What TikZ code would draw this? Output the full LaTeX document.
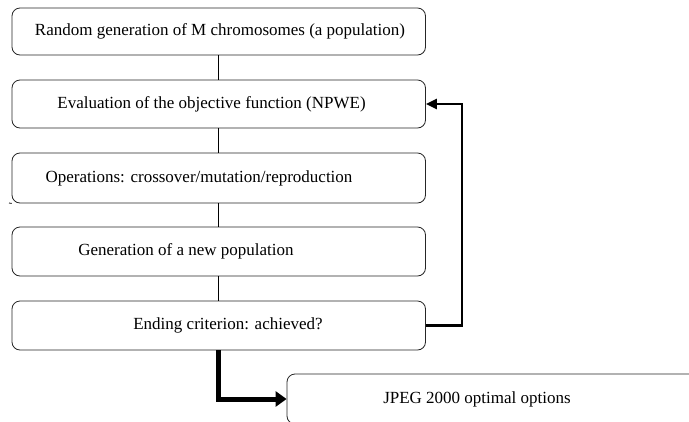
\documentclass[tikz,border=0pt]{standalone}
\usepackage{fontspec}
\setmainfont{Liberation Serif}
\usetikzlibrary{arrows.meta}
\begin{document}
\begin{tikzpicture}[x=1pt,y=-1pt,
  box/.style={draw=black!85,line width=0.8pt,rounded corners=8pt,minimum width=413.5pt,inner sep=0pt},
  lbl/.style={font=\fontsize{17}{20}\selectfont,inner sep=0pt,anchor=center},
  link/.style={draw=black,line width=0.8pt},
  backarrow/.style={draw=black,line width=2.2pt,-{Triangle[length=11pt,width=10pt]}},
  exitarrow/.style={draw=black,line width=5pt,-{Triangle[length=11pt,width=15pt]}}]
\useasboundingbox (0,0) rectangle (689,421);
\clip (0,0) rectangle (689,421);
\fill[white] (0,0) rectangle (689,421);
\node[box,minimum height=47pt] (b1) at (218.75,31.5) {};
\node[box,minimum height=48pt] (b2) at (218.75,104) {};
\node[box,minimum height=50pt] (b3) at (218.75,178) {};
\node[box,minimum height=49pt] (b4) at (218.75,251.5) {};
\node[box,minimum height=49pt] (b5) at (218.75,325.5) {};
\node[box,minimum width=433pt,minimum height=50pt] (b6) at (503.5,399) {};
\node[lbl] (t1) at (220,31.5) {Random generation of M chromosomes (a population)};
\node[lbl] (t2) at (211.5,104) {Evaluation of the objective function (NPWE)};
\node[lbl] (t3) at (199,178) {Operations: crossover/mutation/reproduction};
\node[lbl] (t4) at (186,251.5) {Generation of a new population};
\node[lbl] (t5) at (228,325.5) {Ending criterion: achieved?};
\node[lbl] (t6) at (477,399) {JPEG 2000 optimal options};
\coordinate (c3) at (9,203);
\draw[link] (c3) -- (b3.south west);
\draw[link] (b1.south) -- (b2.north);
\draw[link] (b2.south) -- (b3.north);
\draw[link] (b3.south) -- (b4.north);
\draw[link] (b4.south) -- (b5.north);
\coordinate (fb) at (462,324);
\draw[backarrow] (b5.east) -- (b5.east -| fb) -- (b2.east -| fb) -- (b2.east);
\draw[exitarrow] (b5.south) -- (b5.south |- b6.west) -- (b6.west);
\end{tikzpicture}
\end{document}
